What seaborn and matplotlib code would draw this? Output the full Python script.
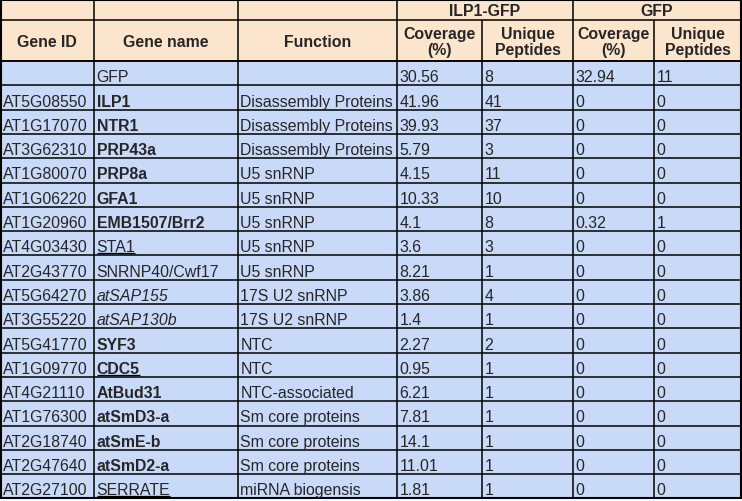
import matplotlib
matplotlib.use("Agg")
import matplotlib.pyplot as plt
import seaborn as sns
from matplotlib.patches import Rectangle

# table content
gene_ids = ["", "AT5G08550", "AT1G17070", "AT3G62310", "AT1G80070", "AT1G06220",
            "AT1G20960", "AT4G03430", "AT2G43770", "AT5G64270", "AT3G55220",
            "AT5G41770", "AT1G09770", "AT4G21110", "AT1G76300", "AT2G18740",
            "AT2G47640", "AT2G27100"]
gene_names = ["GFP", "ILP1", "NTR1", "PRP43a", "PRP8a", "GFA1", "EMB1507/Brr2",
              "STA1", "SNRNP40/Cwf17", "atSAP155", "atSAP130b", "SYF3", "CDC5",
              "AtBud31", "atSmD3-a", "atSmE-b", "atSmD2-a", "SERRATE"]
# n = normal, b = bold, i = italic, u = underline, bu = bold + underline
name_styles = ["n", "b", "b", "b", "b", "b", "b", "u", "n", "i", "i", "b", "bu",
               "b", "b", "b", "b", "u"]
functions = ["", "Disassembly Proteins", "Disassembly Proteins", "Disassembly Proteins",
             "U5 snRNP", "U5 snRNP", "U5 snRNP", "U5 snRNP", "U5 snRNP",
             "17S U2 snRNP", "17S U2 snRNP", "NTC", "NTC", "NTC-associated",
             "Sm core proteins", "Sm core proteins", "Sm core proteins",
             "miRNA biogensis"]
ilp1_coverage = [30.56, 41.96, 39.93, 5.79, 4.15, 10.33, 4.1, 3.6, 8.21, 3.86, 1.4,
                 2.27, 0.95, 6.21, 7.81, 14.1, 11.01, 1.81]
ilp1_peptides = [8, 41, 37, 3, 11, 10, 8, 3, 1, 4, 1, 2, 1, 1, 1, 1, 1, 1]
gfp_coverage = [32.94, 0, 0, 0, 0, 0, 0.32, 0, 0, 0, 0, 0, 0, 0, 0, 0, 0, 0]
gfp_peptides = [11, 0, 0, 0, 0, 0, 1, 0, 0, 0, 0, 0, 0, 0, 0, 0, 0, 0]

group_labels = ["ILP1-GFP", "GFP"]
col_headers = ["Gene ID", "Gene name", "Function", "Coverage\n(%)", "Unique\nPeptides",
               "Coverage\n(%)", "Unique\nPeptides"]

# layout (pixels)
col_edges = [0.5, 94, 238, 397, 482, 573, 654, 741]
head_edges = [0.5, 21, 62]
row_h = 24.3
header_color = "#fce5cd"
body_color = "#c9daf8"
line_color = "#000000"

sns.set_theme(style="white")
plt.rcParams["font.family"] = ["Liberation Sans", "DejaVu Sans"]
plt.rcParams["font.size"] = 11.4

fig = plt.figure(figsize=(7.42, 5.02), dpi=100)
ax = fig.add_axes([0, 0, 1, 1])
ax.set_xlim(0, 742)
ax.set_ylim(502, 0)
ax.axis("off")

n_rows = len(gene_ids)
row_edges = [head_edges[-1] + i * row_h for i in range(n_rows + 1)]
bottom = row_edges[-1]

# backgrounds
ax.add_patch(Rectangle((col_edges[0], 0), col_edges[-1] - col_edges[0], head_edges[-1],
                       color=header_color, lw=0))
ax.add_patch(Rectangle((col_edges[0], head_edges[-1]), col_edges[-1] - col_edges[0],
                       bottom - head_edges[-1], color=body_color, lw=0))

# grid lines
for y in head_edges + row_edges:
    ax.hlines(y, col_edges[0], col_edges[-1], color=line_color, lw=1.1)
for i, x in enumerate(col_edges):
    ax.vlines(x, head_edges[1], bottom, color=line_color, lw=1.1)
    if i not in (4, 6):
        ax.vlines(x, 0, head_edges[1], color=line_color, lw=1.1)
ax.add_patch(Rectangle((col_edges[0], 0.5), col_edges[-1] - col_edges[0], bottom - 0.5,
                       fill=False, ec=line_color, lw=1.5))

# header text
ax.text((col_edges[3] + col_edges[5]) / 2, 11, group_labels[0], ha="center", va="center",
        fontweight="bold")
ax.text((col_edges[5] + col_edges[7]) / 2, 11, group_labels[1], ha="center", va="center",
        fontweight="bold")
for j, h in enumerate(col_headers):
    ax.text((col_edges[j] + col_edges[j + 1]) / 2, (head_edges[1] + head_edges[2]) / 2 + 1, h,
            ha="center", va="center", fontweight="bold", linespacing=1.05)

# body text
underlined = []
for i in range(n_rows):
    yb = row_edges[i + 1] - 4
    cells = [gene_ids[i], gene_names[i], functions[i], f"{ilp1_coverage[i]:g}",
             f"{ilp1_peptides[i]}", f"{gfp_coverage[i]:g}", f"{gfp_peptides[i]}"]
    for j, s in enumerate(cells):
        if not s:
            continue
        kw = {}
        if j == 1:
            st = name_styles[i]
            if "b" in st:
                kw["fontweight"] = "bold"
            if "i" in st:
                kw["fontstyle"] = "italic"
        t = ax.text(col_edges[j] + 2.5, yb, s, ha="left", va="baseline", **kw)
        if j == 1 and "u" in name_styles[i]:
            underlined.append((t, yb))

# underlines under the text extent
fig.canvas.draw()
renderer = fig.canvas.get_renderer()
inv = ax.transData.inverted()
for t, yb in underlined:
    bb = t.get_window_extent(renderer)
    x0 = inv.transform((bb.x0, bb.y0))[0]
    x1 = inv.transform((bb.x1, bb.y0))[0]
    ax.hlines(yb + 2, x0, x1, color="black", lw=0.9)

fig.savefig("out.png", dpi=100)
